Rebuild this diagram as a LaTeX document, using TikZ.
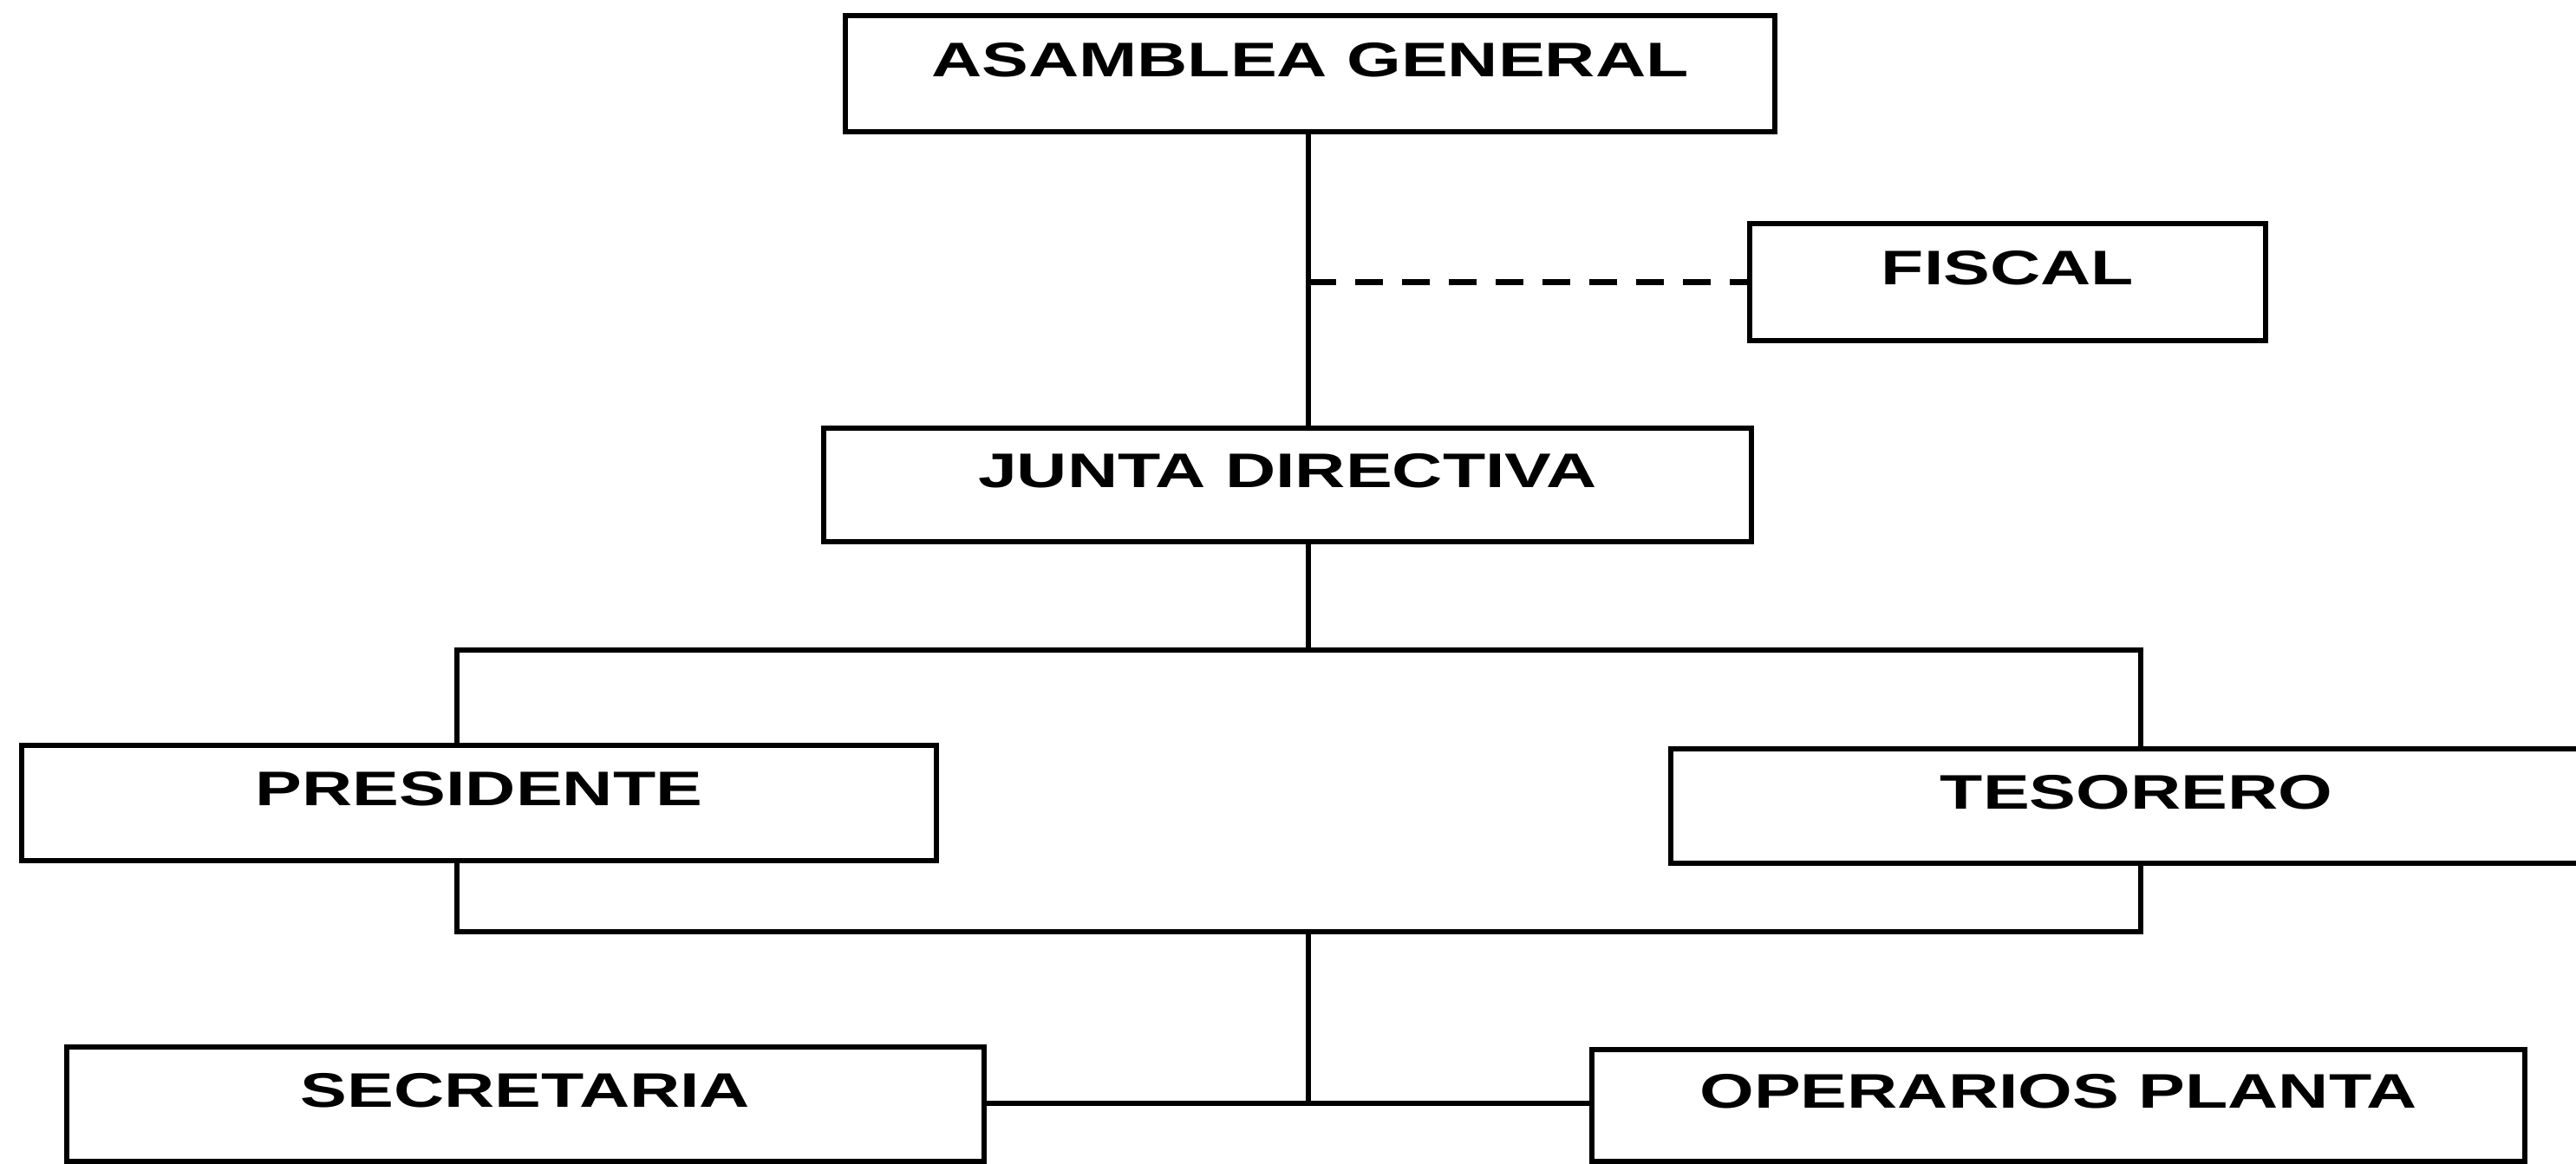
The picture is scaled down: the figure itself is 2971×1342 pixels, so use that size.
\documentclass[tikz,border=0pt]{standalone}
\usepackage{fontspec}
\setmainfont{Liberation Sans}
\begin{document}
\begin{tikzpicture}[x=1pt,y=-1pt,
  orgbox/.style={draw=black, line width=6.5pt, rectangle, inner sep=0pt,
    text height=40pt, text depth=34pt,
    font=\fontsize{56pt}{60pt}\selectfont\bfseries},
  conn/.style={draw=black, line width=6.5pt},
  dashconn/.style={draw=black, line width=6.5pt, dash pattern=on 32pt off 22pt}
]
\useasboundingbox (0,0) rectangle (2971,1342);
\newcommand{\wide}[1]{\scalebox{1.44}[1]{#1}}

\node[orgbox, minimum width=1072pt, minimum height=134pt] (ag) at (1511,85) {\wide{ASAMBLEA GENERAL}};
\node[orgbox, minimum width=595pt, minimum height=135pt] (fis) at (2315.5,325.5) {\wide{FISCAL}};
\node[orgbox, minimum width=1070pt, minimum height=131pt] (jd) at (1485,559.5) {\wide{JUNTA DIRECTIVA}};
\node[orgbox, minimum width=1055pt, minimum height=133pt] (pres) at (552.5,926.5) {\wide{PRESIDENTE}};
\node[orgbox, minimum width=1074pt, minimum height=132pt] (tes) at (2464,930) {\wide{TESORERO}};
\node[orgbox, minimum width=1058pt, minimum height=132pt] (sec) at (606,1274) {\wide{SECRETARIA}};
\node[orgbox, minimum width=1076pt, minimum height=129pt] (op) at (2374,1275.5) {\wide{OPERARIOS PLANTA}};

\coordinate (t) at (1509,0);
\coordinate (ub1) at (527,750);
\coordinate (ub2) at (2469,750);
\coordinate (tj) at (1509,750);
\coordinate (lb1) at (527,1075);
\coordinate (lb2) at (2469,1075);
\coordinate (lj) at (1509,1075);
\coordinate (bj) at (1509,1273);

\draw[conn] (ag.south -| t) -- (jd.north -| t);
\draw[dashconn] (fis.west -| t) -- (fis.west);
\draw[conn] (jd.south -| tj) -- (tj);
\draw[conn] (pres.north -| ub1) -- (ub1) -- (ub2) -- (tes.north -| ub2);
\draw[conn] (pres.south -| lb1) -- (lb1) -- (lb2) -- (tes.south -| lb2);
\draw[conn] (lj) -- (bj);
\draw[conn] (sec.east |- bj) -- (op.west |- bj);
\end{tikzpicture}
\end{document}
